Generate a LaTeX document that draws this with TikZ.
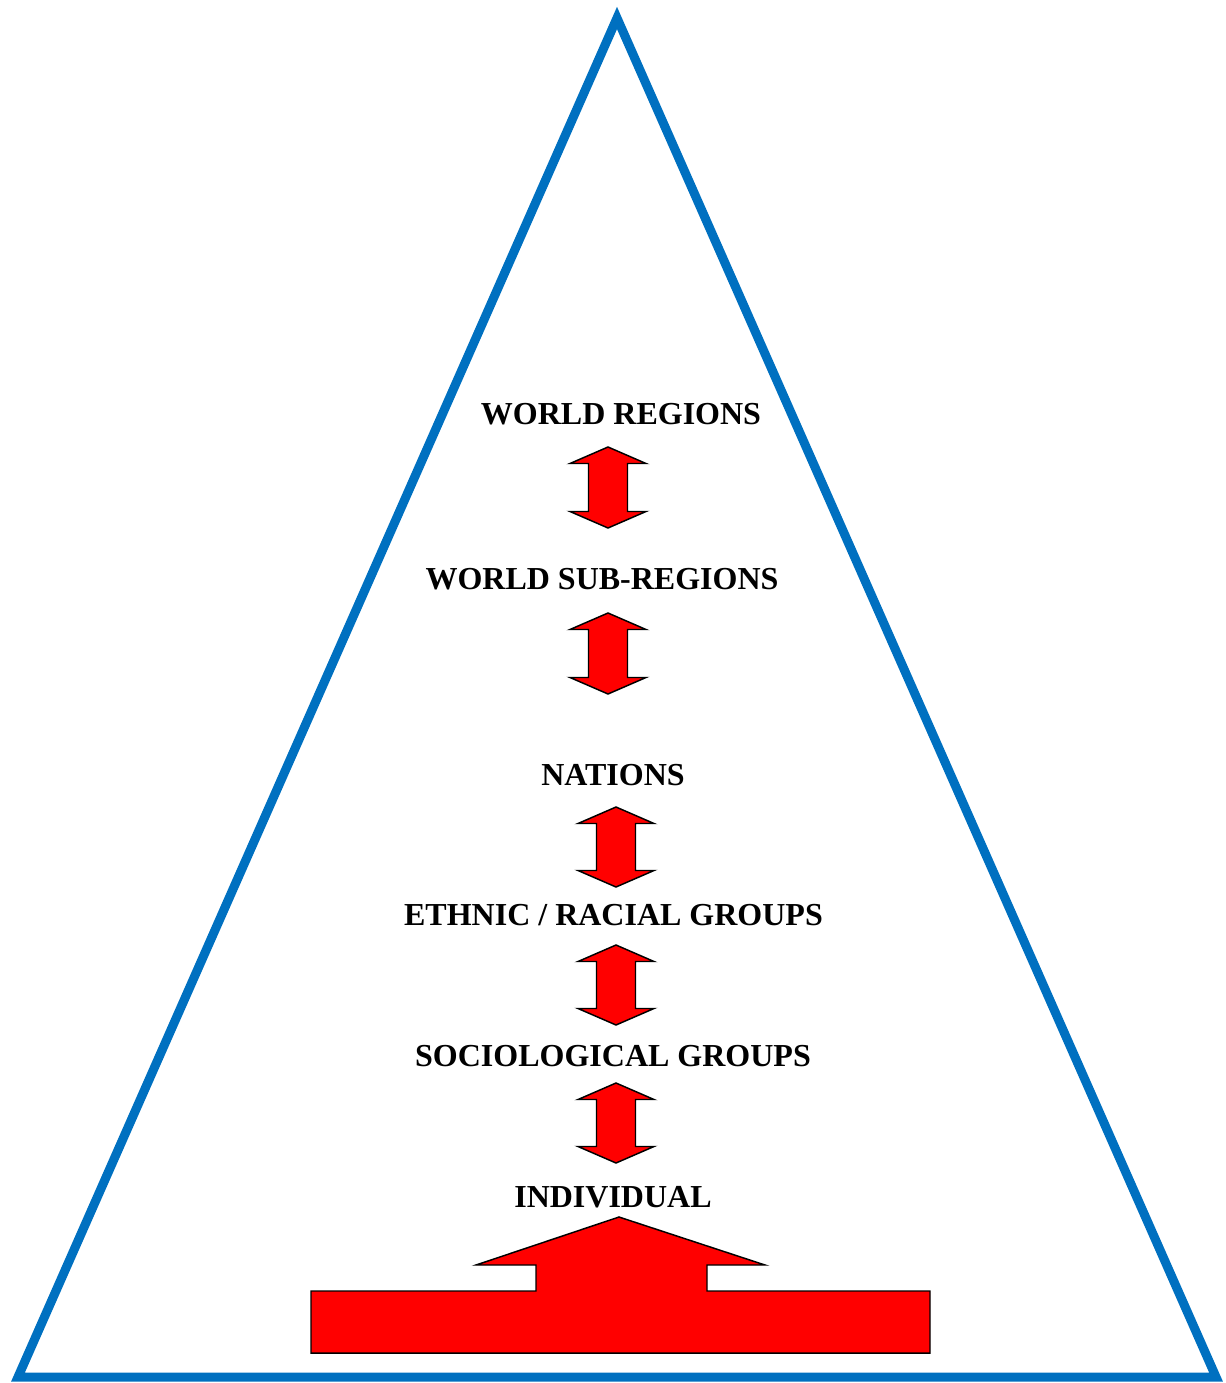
\documentclass[tikz,border=0pt]{standalone}
\usepackage{fontspec}
\setmainfont{Liberation Serif}
\definecolor{triblue}{HTML}{0070C0}
\tikzset{
  lbl/.style={font=\bfseries\fontsize{24}{28}\selectfont, anchor=base, inner sep=0pt},
  redshape/.style={fill=red, draw=black, line width=1.1pt, line join=miter}
}
\newcommand{\dblarrow}[3]{% center x, top y, bottom y
  \draw[redshape] (#1,#2) -- (#1+38,#2+16.5) -- (#1+19.5,#2+16.5) -- (#1+19.5,#3-16.5)
    -- (#1+38,#3-16.5) -- (#1,#3) -- (#1-38,#3-16.5) -- (#1-19.5,#3-16.5)
    -- (#1-19.5,#2+16.5) -- (#1-38,#2+16.5) -- cycle;}
\begin{document}
\begin{tikzpicture}[x=0.75pt,y=-0.75pt]
\useasboundingbox (0,0) rectangle (1225,1383);
% triangle
\draw[triblue, line width=6.75pt, line join=miter] (617,18) -- (1216,1377) -- (18,1377) -- cycle;
% labels
\node[lbl] (wr) at (621,424) {WORLD REGIONS};
\node[lbl] (wsr) at (602,589) {WORLD SUB-REGIONS};
\node[lbl] (nat) at (613,785) {NATIONS};
\node[lbl] (eth) at (613.5,925) {ETHNIC / RACIAL GROUPS};
\node[lbl] (soc) at (613,1066) {SOCIOLOGICAL GROUPS};
\node[lbl] (ind) at (613,1207) {INDIVIDUAL};
% double arrows
\dblarrow{608}{447}{528}
\dblarrow{608}{613}{694}
\dblarrow{616}{807}{887}
\dblarrow{616}{945}{1025}
\dblarrow{616}{1083}{1163}
% base arrow
\draw[redshape] (311,1291) -- (536,1291) -- (536,1265) -- (476,1265) -- (619,1217)
  -- (765,1265) -- (707,1265) -- (707,1291) -- (930,1291) -- (930,1353) -- (311,1353) -- cycle;
\end{tikzpicture}
\end{document}
